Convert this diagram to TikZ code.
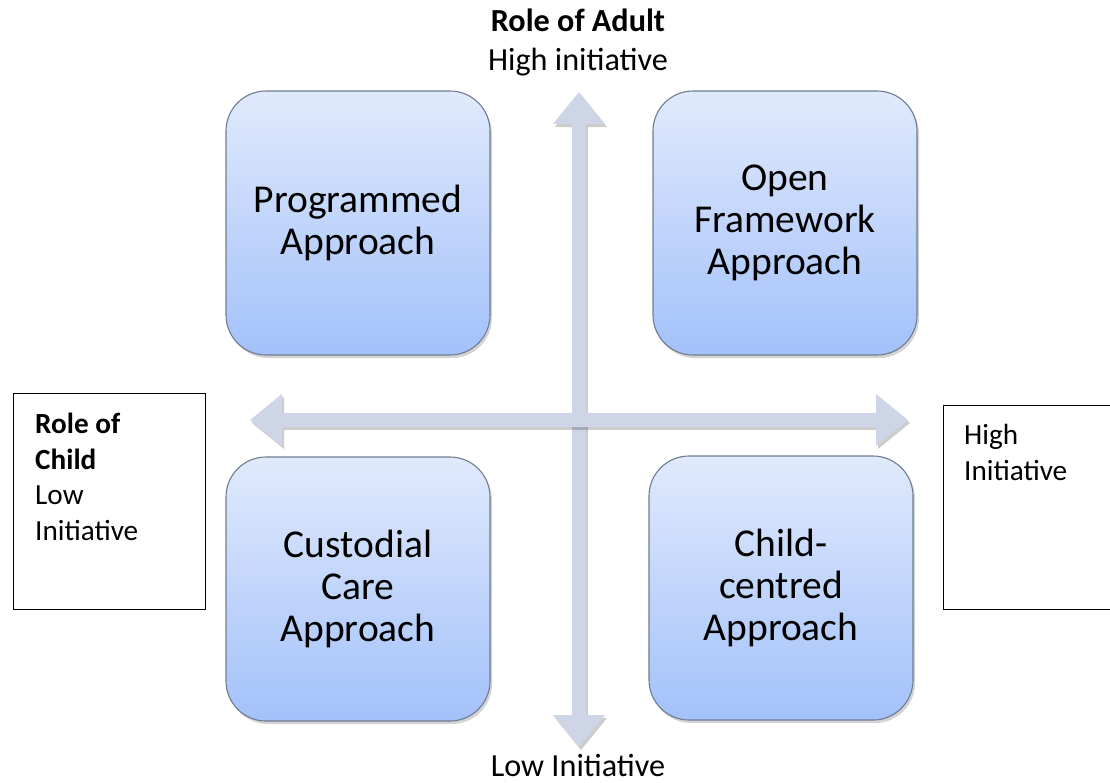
\documentclass[tikz,border=0pt]{standalone}
\usepackage{fontspec}
\setmainfont{Carlito}
\usetikzlibrary{arrows.meta,shadows}
\definecolor{boxtop}{HTML}{E0EAFC}
\definecolor{boxbottom}{HTML}{A3C1FA}
\definecolor{boxline}{HTML}{6F7C91}
\definecolor{axiscolor}{HTML}{CDD5E6}
\tikzstyle{approach} = [rectangle, draw=boxline, line width=1.1pt, top color=boxtop, bottom color=boxbottom,
    rounded corners=40pt, minimum width=264pt, minimum height=264pt, align=center,
    font=\fontsize{39.5}{42}\selectfont, drop shadow={shadow xshift=2pt, shadow yshift=-3pt, opacity=0.35}]
\tikzstyle{sidebox} = [rectangle, draw, line width=1.3pt, inner sep=0pt, anchor=north west]
\tikzstyle{sidetext} = [align=left, inner sep=0pt, anchor=base west, font=\fontsize{29.2}{35.5}\selectfont]
\tikzstyle{axislabel} = [inner sep=0pt, anchor=base, font=\fontsize{32.2}{38}\selectfont]
\tikzstyle{axis} = [draw=axiscolor, line width=14pt,
    {Triangle[width=52pt,length=32pt,line width=0pt]}-{Triangle[width=52pt,length=32pt,line width=0pt]}]
\tikzstyle{axisshadow} = [axis, draw=black, opacity=0.2]

\begin{document}
\begin{tikzpicture}[x=1pt, y=-1pt]
    \useasboundingbox (0,0) rectangle (1110,782);
    \coordinate (adulthigh) at (579,92);
    \coordinate (adultlow) at (579,747);
    \coordinate (childlow) at (250,420);
    \coordinate (childhigh) at (908,420);

    % Draw axes
    \draw [axisshadow] ([shift={(2,3)}]adultlow) -- ([shift={(2,3)}]adulthigh);
    \draw [axis] (adultlow) -- (adulthigh);
    \draw [axisshadow] ([shift={(2,3)}]childlow) -- ([shift={(2,3)}]childhigh);
    \draw [axis] (childlow) -- (childhigh);

    \node [approach] (programmed) at (358,223) {Programmed\\Approach};
    \node [approach] (open) at (785,223) {Open\\Framework\\Approach};
    \node [approach] (custodial) at (358,589) {Custodial\\Care\\Approach};
    \node [approach] (childcentred) at (781,588) {Child-\\centred\\Approach};

    \node [axislabel] (adultrole) at (578,31) {\bfseries Role of Adult};
    \node [axislabel] (adulthightext) at (578,70) {High initiative};
    \node [axislabel] (adultlowtext) at (578,776) {Low Initiative};

    % side boxes (text anchored at its last line)
    \node [sidebox, minimum width=192pt, minimum height=216pt] (childbox) at (13,393) {};
    \node [sidetext] (childrole) at (35,540) {\textbf{Role of}\\\textbf{Child}\\Low\\Initiative};
    \node [sidebox, minimum width=200pt, minimum height=204pt] (highbox) at (943,405) {};
    \node [sidetext] (childhightext) at (964,480) {High\\Initiative};
\end{tikzpicture}
\end{document}
